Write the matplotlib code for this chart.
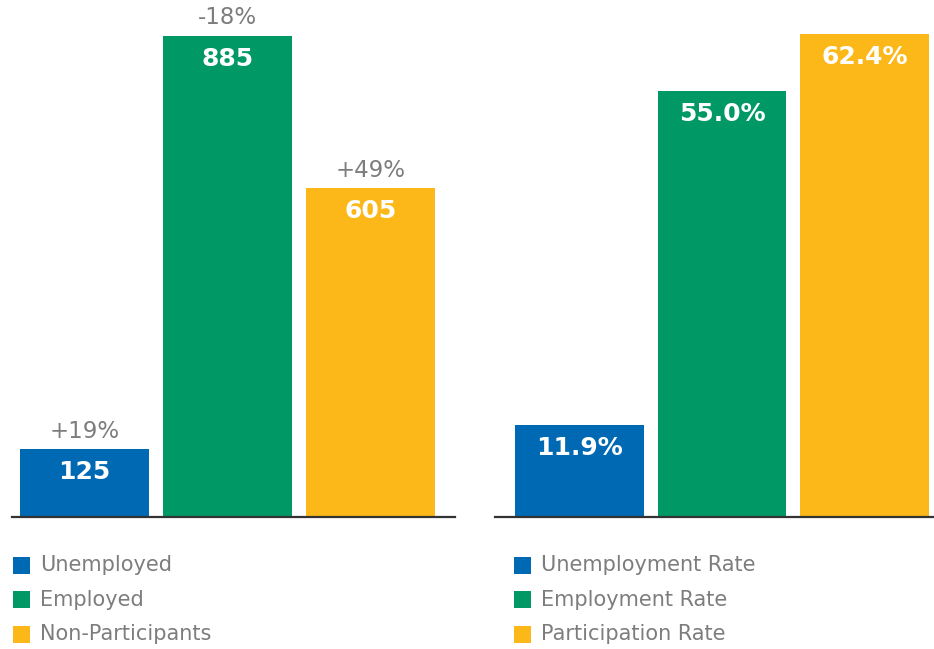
import matplotlib
matplotlib.use("Agg")
import matplotlib.pyplot as plt
from matplotlib.patches import Rectangle

# data
counts_labels = ["Unemployed", "Employed", "Non-Participants"]
counts = [125, 885, 605]
count_changes = ["+19%", "-18%", "+49%"]

rate_labels = ["Unemployment Rate", "Employment Rate", "Participation Rate"]
rates = [11.9, 55.0, 62.4]

colors = ["#0069b4", "#009966", "#fbb818"]
gray = "#7d7d7d"

W, H = 934, 649
fig = plt.figure(figsize=(W / 100, H / 100), dpi=100)

def px_axes(x0, x1, y_bottom):
    # axes rectangle in pixel coords (y measured from top of image)
    return fig.add_axes([x0 / W, (H - y_bottom) / H, (x1 - x0) / W, y_bottom / H])

ax1 = px_axes(12, 455, 517)
ax2 = px_axes(495, 934, 517)

bar_w = 0.902
x = range(3)

b1 = ax1.bar(x, counts, width=bar_w, color=colors, zorder=1)
ax1.set_xlim(-0.507, 2.591)
ax1.set_ylim(0, 885 * 517 / 481)

b2 = ax2.bar(x, rates, width=bar_w, color=colors, zorder=1)
ax2.set_xlim(-0.591, 2.486)
ax2.set_ylim(0, 62.4 * 517 / 483)

for ax in (ax1, ax2):
    for s in ("top", "right", "left"):
        ax.spines[s].set_visible(False)
    ax.spines["bottom"].set_color("#333333")
    ax.spines["bottom"].set_linewidth(1.6)
    ax.set_xticks([])
    ax.set_yticks([])
    ax.patch.set_alpha(0)

# value labels inside bars
for i, v in enumerate(counts):
    ax1.annotate(str(v), (i, v), xytext=(0, -16.5), textcoords="offset points",
                 ha="center", va="center", color="white", fontsize=18, fontweight="bold")
    ax1.annotate(count_changes[i], (i, v), xytext=(0, 13), textcoords="offset points",
                 ha="center", va="center", color=gray, fontsize=16.5)

for i, v in enumerate(rates):
    ax2.annotate(f"{v:.1f}%", (i, v), xytext=(0, -16.5), textcoords="offset points",
                 ha="center", va="center", color="white", fontsize=18, fontweight="bold")

# legends drawn by hand
rows_y = [565, 599.5, 634]
for x_sq, labels in ((13, counts_labels), (514, rate_labels)):
    for c, lab, y in zip(colors, labels, rows_y):
        fig.add_artist(Rectangle((x_sq / W, (H - y - 8.5) / H), 17 / W, 17 / H,
                                 transform=fig.transFigure, color=c, lw=0))
        fig.text((x_sq + 27) / W, (H - y) / H, lab, ha="left", va="center",
                 color=gray, fontsize=15)

fig.savefig("out.png", dpi=100)
